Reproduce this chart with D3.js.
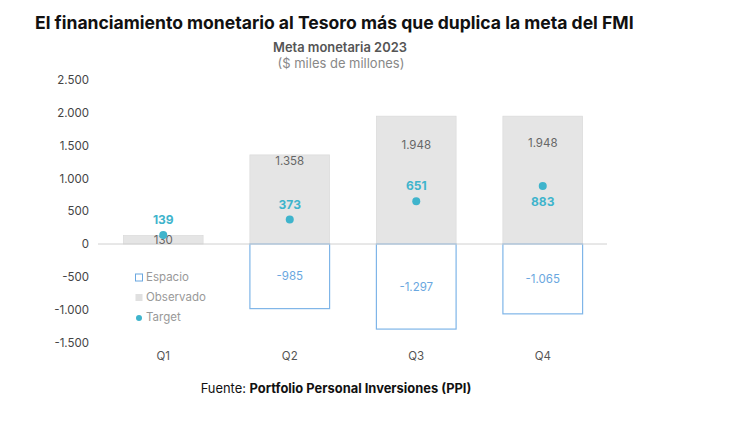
<!DOCTYPE html>
<html><head><meta charset="utf-8">
<script src="https://cdn.jsdelivr.net/npm/d3@7"></script>
<style>body{margin:0;background:#fff}</style>
</head><body>
<svg id="c" width="730" height="438"></svg>
<script>
const quarters = ["Q1","Q2","Q3","Q4"];
const observado = [130, 1358, 1948, 1948];
const espacio = [0, -985, -1297, -1065];
const target = [139, 373, 651, 883];
const yTicks = [-1500,-1000,-500,0,500,1000,1500,2000,2500];

const svg = d3.select("#c");
const fmt = v => d3.format(",")(v).replace(/,/g,".").replace("−","-");
const F = "Inter";

const x = d3.scaleBand().domain(quarters).range([100, 606]).paddingInner(0.37).paddingOuter(0.185);
const y = d3.scaleLinear().domain([-1500, 2500]).range([342.4, 80]);

function fitText(sel, w){ const cur = +sel.attr("font-size"); const tw = sel.node().getComputedTextLength(); sel.attr("font-size", cur*w/tw); }

// title
const title = svg.append("text").attr("x",35).attr("y",29)
  .attr("font-family",F).attr("font-weight",700).attr("font-size",17).attr("fill","#111")
  .text("El financiamiento monetario al Tesoro más que duplica la meta del FMI");
fitText(title, 599);

const st1 = svg.append("text").attr("x",340).attr("y",52).attr("text-anchor","middle")
  .attr("font-family",F).attr("font-weight",600).attr("font-size",13).attr("fill","#555")
  .text("Meta monetaria 2023");
fitText(st1, 134);
const st2 = svg.append("text").attr("x",341).attr("y",68).attr("text-anchor","middle")
  .attr("font-family",F).attr("font-size",13).attr("fill","#888")
  .text("($ miles de millones)");
fitText(st2, 127);

// y axis
const yAxis = d3.axisLeft(y).tickValues(yTicks).tickSize(0).tickPadding(0).tickFormat(fmt);
const ga = svg.append("g").attr("transform","translate(89,0)").call(yAxis);
ga.select(".domain").remove();
ga.selectAll("text").attr("font-family",F).attr("font-size",11.5).attr("fill","#444");

// x labels
const xAxis = d3.axisBottom(x).tickSize(0).tickPadding(0);
const gx = svg.append("g").attr("transform","translate(0,352)").call(xAxis);
gx.select(".domain").remove();
gx.selectAll("text").attr("font-family",F).attr("font-size",11.5).attr("fill","#555");

// observado bars
svg.selectAll("rect.obs").data(quarters).join("rect").attr("class","obs")
  .attr("x",d=>x(d)).attr("width",x.bandwidth())
  .attr("y",(d,i)=>y(observado[i])).attr("height",(d,i)=>y(0)-y(observado[i]))
  .attr("fill","#e5e5e5").attr("stroke","#dcdcdc").attr("stroke-width",0.8);

// espacio bars
svg.selectAll("rect.esp").data(quarters).join("rect").attr("class","esp")
  .attr("x",d=>x(d)).attr("width",x.bandwidth())
  .attr("y",y(0)).attr("height",(d,i)=>y(espacio[i])-y(0))
  .attr("fill","#fff").attr("stroke","#7fb5e8").attr("stroke-width",1.2)
  .style("display",(d,i)=>espacio[i]===0?"none":null);

// zero line
svg.append("line").attr("x1",98).attr("x2",607).attr("y1",y(0)).attr("y2",y(0))
  .attr("stroke","#d0d0d0").attr("stroke-width",1);

// observado labels
const obsOff = [0, 6, 29, 27];
svg.selectAll("text.obsl").data(quarters).join("text").attr("class","obsl")
  .attr("x",d=>x(d)+x.bandwidth()/2)
  .attr("y",(d,i)=> i===0 ? y(0)-0 : y(observado[i])+obsOff[i]+4)
  .attr("text-anchor","middle").attr("font-family",F).attr("font-size",11.5).attr("fill","#666")
  .text((d,i)=>fmt(observado[i]));

// espacio labels
svg.selectAll("text.espl").data(quarters).join("text").attr("class","espl")
  .attr("x",d=>x(d)+x.bandwidth()/2)
  .attr("y",(d,i)=>(y(0)+y(espacio[i]))/2+4)
  .attr("text-anchor","middle").attr("font-family",F).attr("font-size",11.5).attr("fill","#6aa7e0")
  .text((d,i)=>espacio[i]===0?"":fmt(espacio[i]));

// target dots
svg.selectAll("circle.tg").data(quarters).join("circle").attr("class","tg")
  .attr("cx",d=>x(d)+x.bandwidth()/2).attr("cy",(d,i)=>y(target[i])).attr("r",4)
  .attr("fill","#3fb4cc");
svg.selectAll("text.tgl").data(quarters).join("text").attr("class","tgl")
  .attr("x",d=>x(d)+x.bandwidth()/2)
  .attr("y",(d,i)=> i===3 ? y(target[i])+20 : y(target[i])-11)
  .attr("text-anchor","middle").attr("font-family",F).attr("font-weight",700).attr("font-size",12).attr("fill","#3fb4cc")
  .text((d,i)=>fmt(target[i]));

// legend
const leg = svg.append("g").attr("transform","translate(135,0)");
leg.append("rect").attr("x",0.5).attr("y",274).attr("width",7).attr("height",7).attr("fill","#fff").attr("stroke","#6aa7e0");
leg.append("rect").attr("x",0.5).attr("y",294).attr("width",7).attr("height",7).attr("fill","#e0e0e0");
leg.append("circle").attr("cx",4).attr("cy",318).attr("r",3).attr("fill","#3fb4cc");
[["Espacio",281],["Observado",301],["Target",321]].forEach(([t,yy])=>{
  leg.append("text").attr("x",11).attr("y",yy).attr("font-family",F).attr("font-size",11.5).attr("fill","#999").text(t);
});

// source
const src = svg.append("text").attr("x",336).attr("y",393).attr("text-anchor","middle")
  .attr("font-family",F).attr("font-size",12).attr("fill","#111")
  .html('Fuente: <tspan font-weight="700">Portfolio Personal Inversiones (PPI)</tspan>');
fitText(src, 271);
</script>
</body></html>
